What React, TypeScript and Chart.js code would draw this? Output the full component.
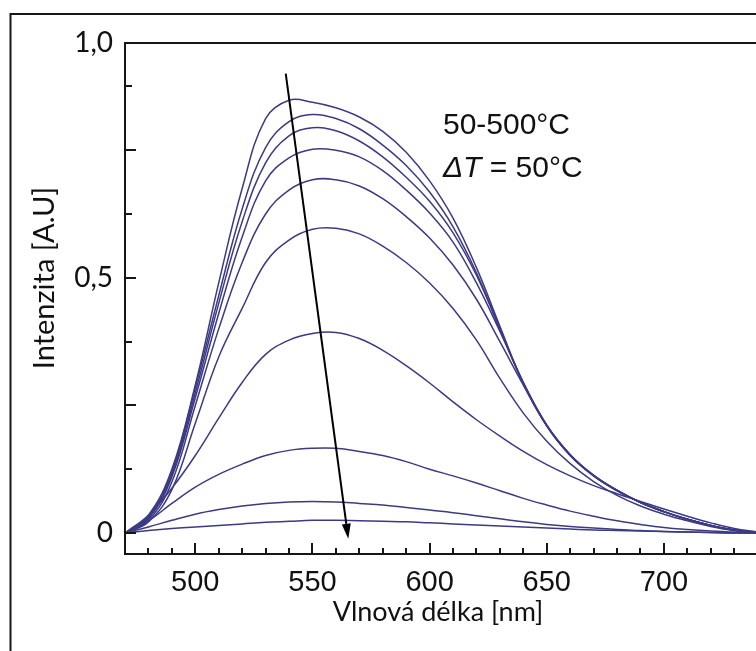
import React, { useEffect, useRef } from "react";
import { Chart, registerables } from "chart.js";

Chart.register(...registerables);

// ---------- data ----------
const WAVELENGTH = [470, 480, 490, 500, 510, 520, 530, 540, 550, 560, 570, 580, 590, 600, 610, 620, 630, 640, 650, 660, 670, 680, 690, 700, 710, 720, 730, 740];

const T050 = [0, 0.035, 0.125, 0.29, 0.49, 0.675, 0.812, 0.848, 0.844, 0.833, 0.815, 0.787, 0.746, 0.69, 0.617, 0.52, 0.405, 0.293, 0.21, 0.152, 0.112, 0.083, 0.06, 0.042, 0.027, 0.015, 0.006, 0.001];
const T100 = [0, 0.032, 0.12, 0.285, 0.465, 0.635, 0.755, 0.806, 0.82, 0.812, 0.792, 0.76, 0.72, 0.668, 0.6, 0.51, 0.4, 0.293, 0.21, 0.152, 0.112, 0.083, 0.06, 0.042, 0.027, 0.015, 0.006, 0.001];
const T150 = [0, 0.03, 0.115, 0.275, 0.45, 0.61, 0.725, 0.778, 0.794, 0.788, 0.768, 0.737, 0.697, 0.65, 0.588, 0.505, 0.4, 0.295, 0.211, 0.153, 0.113, 0.084, 0.06, 0.042, 0.027, 0.015, 0.006, 0.001];
const T200 = [0, 0.028, 0.11, 0.265, 0.43, 0.58, 0.69, 0.735, 0.752, 0.75, 0.737, 0.71, 0.672, 0.627, 0.57, 0.49, 0.395, 0.295, 0.212, 0.154, 0.113, 0.084, 0.06, 0.042, 0.027, 0.015, 0.006, 0.001];
const T250 = [0, 0.025, 0.1, 0.25, 0.4, 0.53, 0.625, 0.672, 0.692, 0.692, 0.68, 0.655, 0.62, 0.578, 0.525, 0.458, 0.375, 0.29, 0.21, 0.153, 0.113, 0.083, 0.06, 0.042, 0.027, 0.015, 0.006, 0.001];
const T300 = [0, 0.022, 0.085, 0.215, 0.345, 0.44, 0.53, 0.574, 0.595, 0.597, 0.586, 0.562, 0.53, 0.49, 0.44, 0.378, 0.303, 0.235, 0.18, 0.136, 0.101, 0.074, 0.053, 0.037, 0.024, 0.013, 0.005, 0.001];
const T350 = [0, 0.035, 0.088, 0.152, 0.225, 0.295, 0.35, 0.378, 0.391, 0.393, 0.381, 0.358, 0.328, 0.294, 0.257, 0.222, 0.19, 0.16, 0.134, 0.112, 0.093, 0.077, 0.062, 0.047, 0.033, 0.02, 0.009, 0.002];
const T400 = [0, 0.024, 0.058, 0.09, 0.115, 0.135, 0.152, 0.162, 0.166, 0.166, 0.16, 0.152, 0.14, 0.125, 0.112, 0.098, 0.083, 0.068, 0.055, 0.043, 0.033, 0.024, 0.017, 0.011, 0.007, 0.004, 0.002, 0];
const T450 = [0, 0.012, 0.025, 0.037, 0.046, 0.053, 0.058, 0.061, 0.062, 0.061, 0.058, 0.055, 0.05, 0.045, 0.04, 0.034, 0.028, 0.022, 0.017, 0.013, 0.01, 0.007, 0.005, 0.003, 0.002, 0.001, 0, 0];
const T500 = [0, 0.005, 0.009, 0.012, 0.015, 0.018, 0.021, 0.023, 0.025, 0.025, 0.024, 0.023, 0.022, 0.02, 0.018, 0.016, 0.014, 0.012, 0.01, 0.008, 0.006, 0.005, 0.004, 0.003, 0.002, 0.001, 0, 0];

const SERIES = [T050, T100, T150, T200, T250, T300, T350, T400, T450, T500];
const SERIES_NAMES = ["50°C", "100°C", "150°C", "200°C", "250°C", "300°C", "350°C", "400°C", "450°C", "500°C"];

const X_MIN = 470;
const X_MAX = 739.3;
const Y_MIN = -0.041;
const Y_MAX = 0.96;
const X_TICKS = [480, 490, 500, 510, 520, 530, 540, 550, 560, 570, 580, 590, 600, 610, 620, 630, 640, 650, 660, 670, 680, 690, 700, 710, 720, 730];
const X_LABELED = [500, 550, 600, 650, 700];
const Y_TICKS = [0, 0.125, 0.25, 0.375, 0.5, 0.625, 0.75, 0.875];
const Y_MAJOR = [0, 0.25, 0.5, 0.75];
const Y_LABEL_VALUES = [0, 0.5, Y_MAX];
const Y_LABEL_TEXTS = ["0", "0,5", "1,0"];

const X_TITLE = "Vlnová délka [nm]";
const Y_TITLE = "Intenzita [A.U]";
const NOTE_RANGE = "50-500°C";
const NOTE_DELTA = "ΔT";
const NOTE_STEP = " = 50°C";
const NOTE_AT = [605.7, 0.782];
const NOTE2_AT = [605.7, 0.698];
const ARROW_FROM = [538.6, 0.9];
const ARROW_TO = [565.3, -0.011];

const LINE_COLOR = "#3d3a84";
const INK = "#161616";

const decor = {
  id: "decor",
  afterDraw(chart: any) {
    const { ctx, chartArea: a, scales } = chart;
    const xs = scales.x;
    const ys = scales.y;
    ctx.save();

    // outer frame (left & top)
    ctx.strokeStyle = INK;
    ctx.lineWidth = 2;
    ctx.beginPath();
    ctx.moveTo(10.5, chart.height);
    ctx.lineTo(10.5, 14);
    ctx.lineTo(chart.width, 14);
    ctx.stroke();

    // plot frame
    ctx.lineWidth = 2;
    ctx.beginPath();
    ctx.moveTo(a.right, a.top);
    ctx.lineTo(a.left, a.top);
    ctx.lineTo(a.left, a.bottom);
    ctx.lineTo(a.right, a.bottom);
    ctx.stroke();

    // inward tick marks
    ctx.lineWidth = 2;
    ctx.beginPath();
    Y_TICKS.forEach((v) => {
      const py = Math.round(ys.getPixelForValue(v));
      const len = Y_MAJOR.includes(v) ? 11 : 7;
      ctx.moveTo(a.left, py);
      ctx.lineTo(a.left + len, py);
    });
    X_TICKS.forEach((v) => {
      const px = Math.round(xs.getPixelForValue(v));
      const len = X_LABELED.includes(v) ? 11 : 6;
      ctx.moveTo(px, a.bottom);
      ctx.lineTo(px, a.bottom - len);
    });
    ctx.stroke();

    // arrow
    const x1 = xs.getPixelForValue(ARROW_FROM[0]);
    const y1 = ys.getPixelForValue(ARROW_FROM[1]);
    const x2 = xs.getPixelForValue(ARROW_TO[0]);
    const y2 = ys.getPixelForValue(ARROW_TO[1]);
    const ang = Math.atan2(y2 - y1, x2 - x1);
    const headLen = 15;
    const headHalf = 4.5;
    const bx = x2 - headLen * Math.cos(ang);
    const by = y2 - headLen * Math.sin(ang);
    ctx.strokeStyle = "#000";
    ctx.lineWidth = 2;
    ctx.beginPath();
    ctx.moveTo(x1, y1);
    ctx.lineTo(bx, by);
    ctx.stroke();
    ctx.fillStyle = "#000";
    ctx.beginPath();
    ctx.moveTo(x2, y2);
    ctx.lineTo(bx + headHalf * Math.sin(ang), by - headHalf * Math.cos(ang));
    ctx.lineTo(bx - headHalf * Math.sin(ang), by + headHalf * Math.cos(ang));
    ctx.closePath();
    ctx.fill();

    // annotation text
    ctx.fillStyle = "#111";
    ctx.textBaseline = "alphabetic";
    ctx.textAlign = "left";
    const nx = xs.getPixelForValue(NOTE_AT[0]);
    ctx.font = "30px 'Liberation Sans', Arial, sans-serif";
    ctx.fillText(NOTE_RANGE, nx, ys.getPixelForValue(NOTE_AT[1]));
    const n2y = ys.getPixelForValue(NOTE2_AT[1]);
    ctx.font = "italic 30px 'Liberation Sans', Arial, sans-serif";
    ctx.fillText(NOTE_DELTA, nx, n2y);
    const dw = ctx.measureText(NOTE_DELTA).width;
    ctx.font = "30px 'Liberation Sans', Arial, sans-serif";
    ctx.fillText(NOTE_STEP, nx + dw, n2y);

    // axis titles
    ctx.fillStyle = "#111";
    ctx.textAlign = "center";
    ctx.textBaseline = "middle";
    ctx.font = "27px Lato, sans-serif";
    ctx.fillText(X_TITLE, 438, 612);
    ctx.save();
    ctx.font = "29px Lato, sans-serif";
    ctx.translate(45, 278);
    ctx.rotate(-Math.PI / 2);
    ctx.fillText(Y_TITLE, 0, 0);
    ctx.restore();

    ctx.restore();
  },
};

export default function App() {
  const canvasRef = useRef<HTMLCanvasElement | null>(null);

  useEffect(() => {
    const canvas = canvasRef.current;
    if (!canvas) return;
    const chart = new Chart(canvas, {
      type: "line",
      data: {
        datasets: SERIES.map((s, i) => ({
          label: SERIES_NAMES[i],
          data: WAVELENGTH.map((w, j) => ({ x: w, y: s[j] })),
          borderColor: LINE_COLOR,
          borderWidth: 1.5,
          pointRadius: 0,
          fill: false,
          tension: 0.4,
        })),
      },
      options: {
        animation: false,
        responsive: false,
        devicePixelRatio: 1,
        layout: { padding: { top: 43, left: 0, right: 0, bottom: 0 } },
        plugins: { legend: { display: false }, tooltip: { enabled: false } },
        scales: {
          x: {
            type: "linear",
            min: X_MIN,
            max: X_MAX,
            grid: { display: false, drawTicks: false },
            border: { display: false },
            afterBuildTicks: (s: any) => {
              s.ticks = X_TICKS.map((v) => ({ value: v }));
            },
            afterFit: (s: any) => {
              s.height = 97;
            },
            ticks: {
              autoSkip: false,
              maxRotation: 0,
              padding: 12,
              color: "#111",
              font: { family: "'Liberation Sans', Arial, sans-serif", size: 29 },
              callback: (v: any) => (X_LABELED.includes(Number(v)) ? String(v) : ""),
            },
          },
          y: {
            type: "linear",
            min: Y_MIN,
            max: Y_MAX,
            grid: { display: false, drawTicks: false },
            border: { display: false },
            afterBuildTicks: (s: any) => {
              s.ticks = [...Y_TICKS, Y_MAX].map((v) => ({ value: v }));
            },
            afterFit: (s: any) => {
              s.width = 125;
            },
            ticks: {
              autoSkip: false,
              padding: 12,
              color: "#111",
              font: { family: "Lato, sans-serif", size: 28 },
              callback: (v: any) => {
                const k = Y_LABEL_VALUES.indexOf(Number(v));
                return k >= 0 ? Y_LABEL_TEXTS[k] : "";
              },
            },
          },
        },
      },
      plugins: [decor],
    });
    return () => chart.destroy();
  }, []);

  return (
    <div style={{ position: "fixed", left: 0, top: 0, width: 756, height: 651, background: "#fff" }}>
      <canvas ref={canvasRef} width={756} height={651} style={{ display: "block" }} />
    </div>
  );
}
